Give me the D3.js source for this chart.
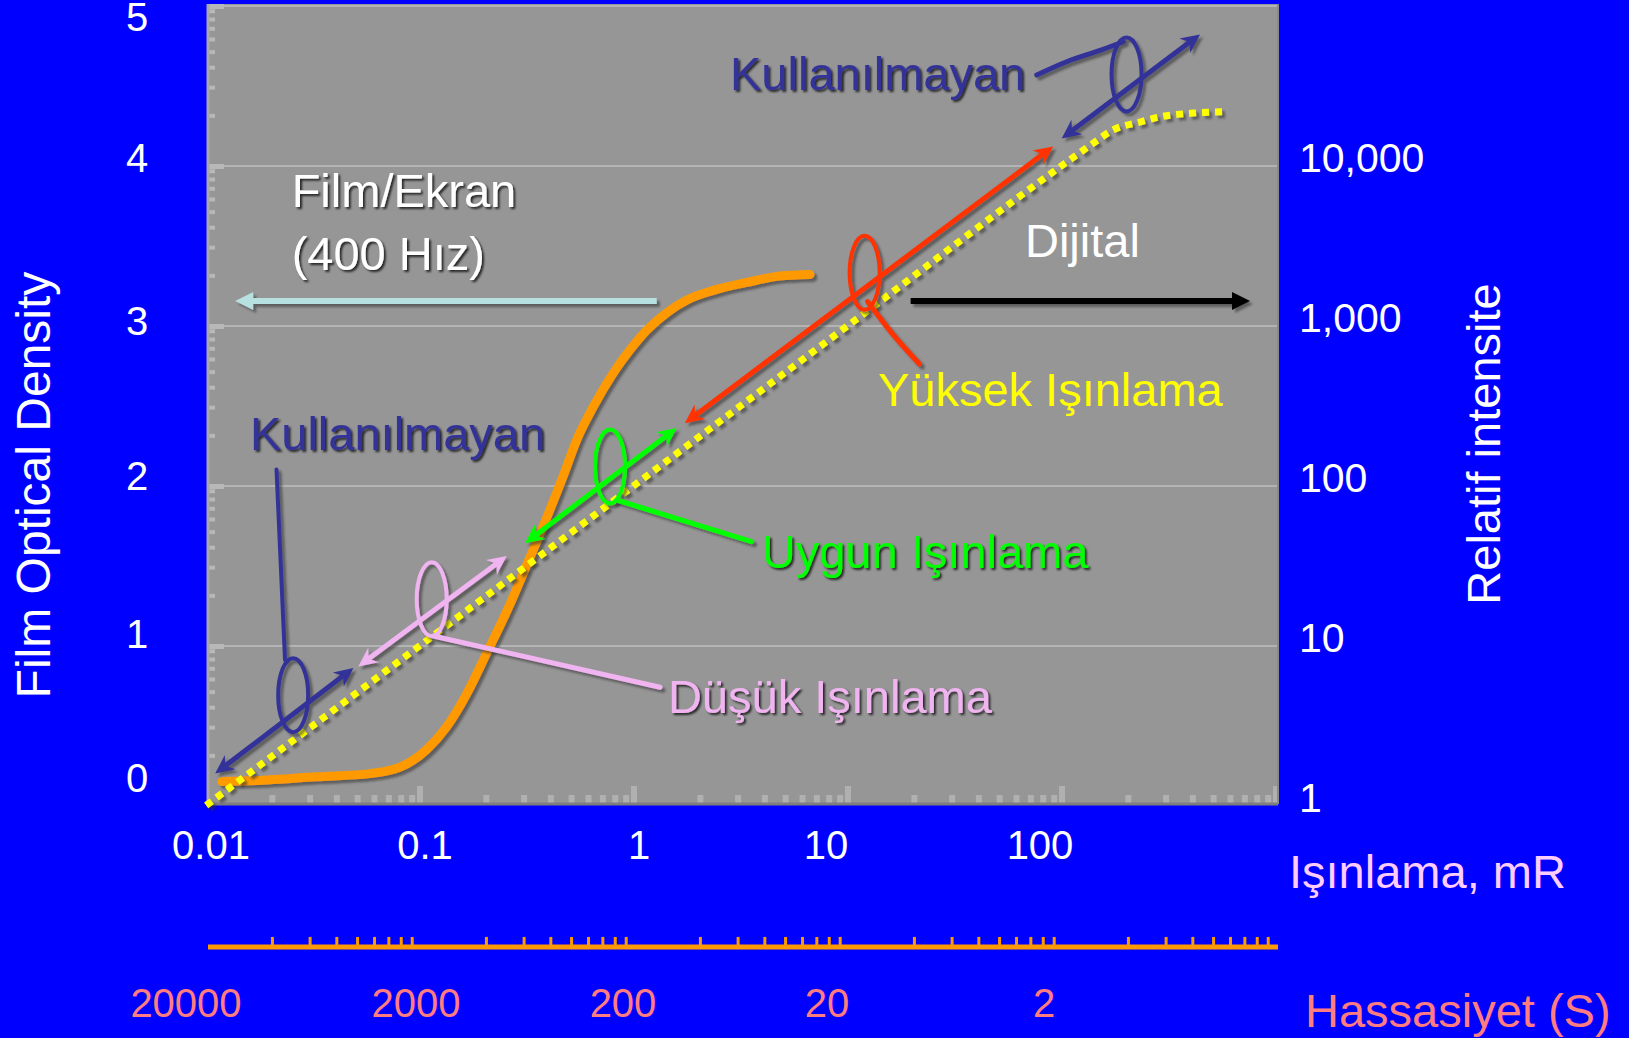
<!DOCTYPE html>
<html>
<head>
<meta charset="utf-8">
<script src="https://cdn.jsdelivr.net/npm/d3@7/dist/d3.min.js"></script>
<style>
  html, body { margin: 0; padding: 0; background: #0000ff; }
  svg { display: block; font-family: "Liberation Sans", Arial, sans-serif; }
</style>
</head>
<body>
<div id="chart"></div>
<script>
// axis ticks
const densityTicks = [0, 1, 2, 3, 4, 5];
const exposureTicks = [0.01, 0.1, 1, 10, 100];
const intensityTicks = [1, 10, 100, 1000, 10000];
const speedTicks = [20000, 2000, 200, 20, 2];

// film/screen characteristic curve (mR -> optical density)
const filmExposure = [0.0116, 0.019, 0.032, 0.057, 0.079, 0.105, 0.13, 0.162, 0.2, 0.25, 0.31, 0.38, 0.46, 0.53, 0.63, 0.78, 0.94, 1.12, 1.39, 1.73, 2.3, 3.3, 4.7, 6.5];
const filmDensity = [0.14, 0.15, 0.17, 0.19, 0.23, 0.34, 0.48, 0.69, 0.94, 1.21, 1.5, 1.78, 2.06, 2.28, 2.48, 2.69, 2.84, 2.96, 3.07, 3.15, 3.21, 3.26, 3.30, 3.31];

// digital detector response (mR -> relative intensity)
const digitalExposure = [0.0098, 0.1, 1, 10, 100, 137, 169, 230, 281, 400, 550];
const digitalIntensity = [0.98, 10, 100, 1000, 10000, 13500, 16300, 18400, 19700, 20800, 21200];

// exposure ranges marked along the digital line, in [mR, density]
const rangeNames = ["Kullanılmayan", "Düşük Işınlama", "Uygun Işınlama", "Yüksek Işınlama", "Kullanılmayan"];
const rangeFrom = [[0.0108, 0.19], [0.0504, 0.86], [0.303, 1.63], [1.69, 2.38], [97.5, 4.16]];
const rangeTo = [[0.0478, 0.85], [0.249, 1.55], [1.55, 2.35], [89, 4.11], [432, 4.81]];
const rangeRing = [[0.025, 0.68], [0.111, 1.28], [0.756, 2.11], [11.7, 3.32], [196, 4.56]];
const rangeLeader = [
  [[0.0209, 2.09], [0.0229, 0.90]],
  [[0.113, 1.05], [1.295, 0.73]],
  [[0.8125, 1.90], [3.47, 1.64]],
  [[12.08, 3.14], [15.97, 2.93], [21.1, 2.75]],
  [[74.6, 4.556], [102.9, 4.639], [147.3, 4.71], [189.3, 4.764]]
];
const rangeLabelAt = [[0.0157, 2.21], [1.41, 0.57], [3.87, 1.475], [13.5, 2.49], [2.75, 4.46]];

// film vs digital direction arrows
const filmArrow = [[1.25, 3.144], [0.0134, 3.144]];
const digitalArrow = [[19.2, 3.144], [740, 3.144]];

const W = 1629, H = 1038;

const svg = d3.select("#chart").append("svg")
  .attr("width", W).attr("height", H);

const defs = svg.append("defs");
defs.append("filter").attr("id", "lineShadow")
  .attr("x", "-20%").attr("y", "-20%").attr("width", "140%").attr("height", "140%")
  .append("feDropShadow")
  .attr("dx", 3).attr("dy", 3).attr("stdDeviation", 1.2)
  .attr("flood-color", "#333").attr("flood-opacity", 0.55);
defs.append("filter").attr("id", "textShadow")
  .attr("x", "-10%").attr("y", "-20%").attr("width", "120%").attr("height", "150%")
  .append("feDropShadow")
  .attr("dx", 2).attr("dy", 2).attr("stdDeviation", 0.8)
  .attr("flood-color", "#000").attr("flood-opacity", 0.75);

svg.append("rect").attr("width", W).attr("height", H).attr("fill", "#0000ff");

// scales
const x = d3.scaleLog().domain([0.01, 1000]).range([208, 1278]);
const y = d3.scaleLinear().domain([0, 5]).range([804, 4]);
const yI = d3.scaleLog().domain([1, 100000]).range([804, 4]);
// density labels in the original sit slightly off their gridlines
const yLabel = d3.scaleLinear().domain(densityTicks).range([792, 648, 490, 335, 172, 31]);
const s = d3.scaleLog().domain([20000, 0.2]).range([208, 1278]);
const speedShift = [-22, -6, -13, -23, -20];

const px = d => [x(d[0]), y(d[1])];

// plot area
svg.append("rect")
  .attr("x", x(0.01)).attr("y", y(5))
  .attr("width", x(1000) - x(0.01)).attr("height", y(0) - y(5))
  .attr("fill", "#969696");

// gridlines
svg.append("g").selectAll("line")
  .data([1, 2, 3, 4, 5]).join("line")
  .attr("x1", x(0.01)).attr("x2", x(1000))
  .attr("y1", d => y(d) + 2).attr("y2", d => y(d) + 2)
  .attr("stroke", "#b4b4b4").attr("stroke-width", 2);

// left minor ticks (log steps inside each density unit)
const leftTicks = [];
for (let n = 0; n < 5; n++) for (let k = 2; k <= 9; k++) leftTicks.push(n + Math.log10(k));
svg.append("g").selectAll("rect")
  .data(leftTicks).join("rect")
  .attr("x", x(0.01)).attr("y", d => y(d) - 2)
  .attr("width", 7).attr("height", 4)
  .attr("fill", "#b8b8b8");
svg.append("g").selectAll("rect")
  .data([1, 2, 3, 4, 5]).join("rect")
  .attr("x", x(0.01)).attr("y", d => y(d))
  .attr("width", 16).attr("height", 5)
  .attr("fill", "#b8b8b8");

// bottom minor ticks (log)
const minorExp = [];
for (let e = -2; e < 3; e++) for (let k = 2; k <= 9; k++) minorExp.push(k * Math.pow(10, e));
svg.append("g").selectAll("rect")
  .data(minorExp).join("rect")
  .attr("x", d => x(d) - 3).attr("y", y(0) - 9)
  .attr("width", 6).attr("height", 9)
  .attr("fill", "#b0b0b0");
svg.append("g").selectAll("rect")
  .data([0.1, 1, 10, 100, 1000]).join("rect")
  .attr("x", d => x(d) - 5).attr("y", y(0) - 18)
  .attr("width", 6).attr("height", 18)
  .attr("fill", "#b0b0b0");

// frame edges
svg.append("line").attr("x1", x(0.01)).attr("x2", x(0.01)).attr("y1", y(5)).attr("y2", y(0))
  .attr("stroke", "#a8a8a8").attr("stroke-width", 3);
svg.append("line").attr("x1", x(1000)).attr("x2", x(1000)).attr("y1", y(5)).attr("y2", y(0))
  .attr("stroke", "#8a8a8a").attr("stroke-width", 2);
svg.append("line").attr("x1", x(0.01)).attr("x2", x(1000)).attr("y1", y(0)).attr("y2", y(0))
  .attr("stroke", "#7e7e7e").attr("stroke-width", 3);

// film curve
const filmLine = d3.line().x(d => x(d[0])).y(d => y(d[1])).curve(d3.curveMonotoneX);
svg.append("path")
  .datum(filmExposure.map((v, i) => [v, filmDensity[i]]))
  .attr("d", filmLine)
  .attr("fill", "none").attr("stroke", "#ff9900").attr("stroke-width", 9)
  .attr("stroke-linecap", "round").attr("stroke-linejoin", "round")
  .attr("filter", "url(#lineShadow)");

// digital line
const digitalLine = d3.line().x(d => x(d[0])).y(d => yI(d[1])).curve(d3.curveMonotoneX);
svg.append("path")
  .datum(digitalExposure.map((v, i) => [v, digitalIntensity[i]]))
  .attr("d", digitalLine)
  .attr("fill", "none").attr("stroke", "#ffff00").attr("stroke-width", 7)
  .attr("stroke-dasharray", "7,6")
  .attr("filter", "url(#lineShadow)");

// arrow helper: shaft + head(s)
function arrow(g, p0, p1, color, width, both, barbed) {
  const dx = p1[0] - p0[0], dy = p1[1] - p0[1];
  const len = Math.hypot(dx, dy), ux = dx / len, uy = dy / len;
  const cut = barbed ? 12 : 14;
  const a = both ? [p0[0] + ux * cut, p0[1] + uy * cut] : p0;
  const b = [p1[0] - ux * cut, p1[1] - uy * cut];
  g.append("line").attr("x1", a[0]).attr("y1", a[1]).attr("x2", b[0]).attr("y2", b[1])
    .attr("stroke", color).attr("stroke-width", width);
  const head = barbed ? "M0,0L-19,-9L-13,0L-19,9Z" : "M0,0L-18,-9L-18,9Z";
  const ang = Math.atan2(dy, dx) * 180 / Math.PI;
  g.append("path").attr("d", head).attr("fill", color)
    .attr("transform", `translate(${p1[0]},${p1[1]}) rotate(${ang})`);
  if (both) {
    g.append("path").attr("d", head).attr("fill", color)
      .attr("transform", `translate(${p0[0]},${p0[1]}) rotate(${ang + 180})`);
  }
}

// film / digital direction arrows
const dirG = svg.append("g").attr("filter", "url(#lineShadow)");
arrow(dirG, px(filmArrow[0]), px(filmArrow[1]), "#b7e0e0", 6, false, false);
arrow(dirG, px(digitalArrow[0]), px(digitalArrow[1]), "#000000", 6, false, false);

// exposure ranges
const rangeColor = ["#333399", "#f0b4f0", "#00ff00", "#ff3300", "#333399"];
const rangeText = ["#333399", "#f0b4f0", "#00ff00", "#ffff00", "#333399"];
const leaderLine = d3.line().curve(d3.curveCatmullRom);

rangeNames.forEach((name, i) => {
  const g = svg.append("g").attr("filter", "url(#lineShadow)");
  g.append("path")
    .attr("d", leaderLine(rangeLeader[i].map(px)))
    .attr("fill", "none").attr("stroke", rangeColor[i]).attr("stroke-width", i === 0 ? 4 : 5)
    .attr("stroke-linecap", "round");
  const c = px(rangeRing[i]);
  g.append("ellipse").attr("cx", c[0]).attr("cy", c[1])
    .attr("rx", 15).attr("ry", 37)
    .attr("fill", "none").attr("stroke", rangeColor[i]).attr("stroke-width", 4);
  arrow(g, px(rangeFrom[i]), px(rangeTo[i]), rangeColor[i], 5, true, true);
});

// annotation texts (the yellow one has no shadow)
rangeNames.forEach((name, i) => {
  const p = px(rangeLabelAt[i]);
  svg.append("text").attr("x", p[0]).attr("y", p[1])
    .attr("font-size", 47).attr("fill", rangeText[i])
    .attr("filter", i === 3 ? null : "url(#textShadow)")
    .text(name);
});

const filmLabelAt = [[0.0246, 3.731], [0.0246, 3.3375]];
["Film/Ekran", "(400 Hız)"].forEach((t, i) => {
  const p = px(filmLabelAt[i]);
  svg.append("text").attr("x", p[0]).attr("y", p[1])
    .attr("font-size", 47).attr("fill", "#ffffff")
    .attr("filter", "url(#textShadow)").text(t);
});
const dp = px([65.7, 3.419]);
svg.append("text").attr("x", dp[0]).attr("y", dp[1])
  .attr("font-size", 47).attr("fill", "#ffffff").text("Dijital");

// left axis labels
svg.append("g").selectAll("text")
  .data(densityTicks).join("text")
  .attr("x", 137).attr("y", d => yLabel(d))
  .attr("text-anchor", "middle").attr("font-size", 40).attr("fill", "#ffffff")
  .text(d => d);

// right axis labels
svg.append("g").selectAll("text")
  .data(intensityTicks).join("text")
  .attr("x", 1299).attr("y", d => yI(d) + 8)
  .attr("font-size", 41).attr("fill", "#ffffff")
  .text(d => d3.format(",")(d));

// bottom exposure labels
svg.append("g").selectAll("text")
  .data(exposureTicks).join("text")
  .attr("x", d => x(d) + (d >= 10 ? -24 : 3)).attr("y", 859)
  .attr("text-anchor", "middle").attr("font-size", 40).attr("fill", "#ffffff")
  .text(d => d);

// sensitivity axis
const sAxis = svg.append("g");
sAxis.append("line").attr("x1", s(20000)).attr("x2", s(0.2)).attr("y1", 947).attr("y2", 947)
  .attr("stroke", "#ff9900").attr("stroke-width", 5);
sAxis.selectAll("rect")
  .data(minorExp).join("rect")
  .attr("x", d => x(d) - 1.5).attr("y", 937)
  .attr("width", 3).attr("height", 10)
  .attr("fill", "#ff9900");
svg.append("g").selectAll("text")
  .data(speedTicks).join("text")
  .attr("x", (d, i) => s(d) + speedShift[i]).attr("y", 1017)
  .attr("text-anchor", "middle").attr("font-size", 40).attr("fill", "#ff7c80")
  .text(d => d);

// titles
svg.append("text").attr("transform", "translate(50,485) rotate(-90)")
  .attr("text-anchor", "middle").attr("font-size", 48).attr("fill", "#ffffff")
  .text("Film Optical Density");
svg.append("text").attr("transform", "translate(1500,444) rotate(-90)")
  .attr("text-anchor", "middle").attr("font-size", 47).attr("fill", "#ffffff")
  .text("Relatif intensite");
svg.append("text").attr("x", 1289).attr("y", 888)
  .attr("font-size", 47).attr("fill", "#ffccff")
  .text("Işınlama, mR");
svg.append("text").attr("x", 1305).attr("y", 1027)
  .attr("font-size", 47).attr("fill", "#ff7c80")
  .text("Hassasiyet (S)");
</script>
</body>
</html>
